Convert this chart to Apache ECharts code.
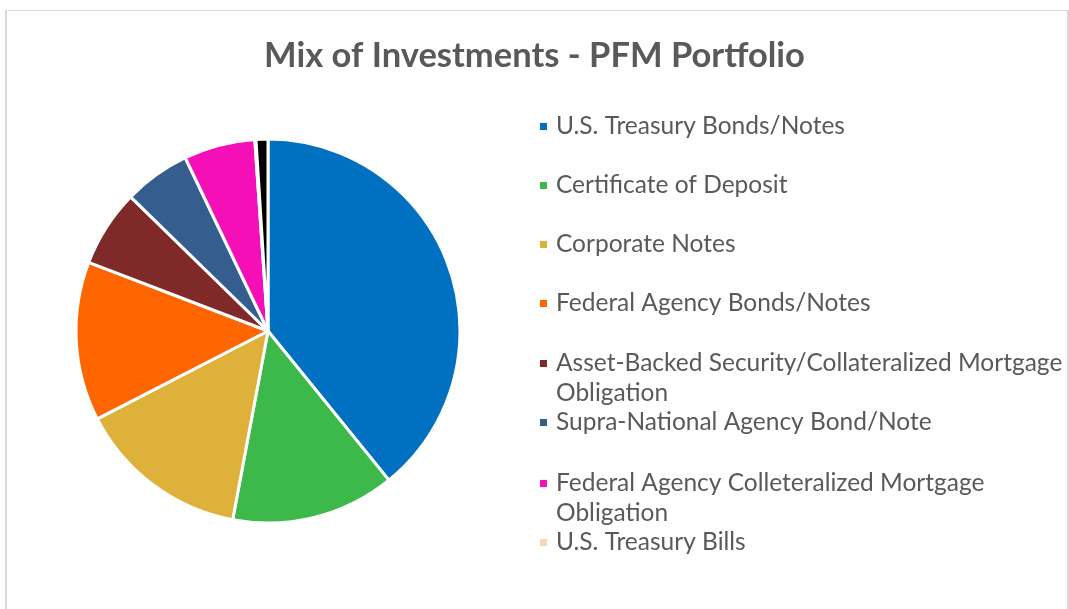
<!DOCTYPE html>
<html>
<head>
<meta charset="utf-8">
<title>Mix of Investments - PFM Portfolio</title>
<script src="https://cdn.jsdelivr.net/npm/echarts@6/dist/echarts.min.js"></script>
<style>
  html, body { margin: 0; padding: 0; background: #fff; }
  .frame {
    position: absolute;
    left: 5px;
    top: 10px;
    width: 1060px;
    height: 610px;
    border-top: 1px solid #d9d9d9;
    border-left: 2px solid #d9d9d9;
    border-right: 2px solid #d9d9d9;
  }
  #chart { position: absolute; left: 0; top: 0; width: 1069px; height: 609px; }
</style>
</head>
<body>
<div class="frame"></div>
<div id="chart"></div>
<script>
// 数据
const categories = [
  'U.S. Treasury Bonds/Notes',
  'Certificate of Deposit',
  'Corporate Notes',
  'Federal Agency Bonds/Notes',
  'Asset-Backed Security/Collateralized Mortgage Obligation',
  'Supra-National Agency Bond/Note',
  'Federal Agency Colleteralized Mortgage Obligation',
  'U.S. Treasury Bills',
  'Other'
]
const shares = [39.2, 13.8, 14.5, 13.4, 6.5, 5.6, 6.0, 0.1, 1.0]
const colors = ['#0070c0', '#3cb94a', '#deb23a', '#ff6600', '#7f2929', '#355e8f', '#f50fb7', '#fbd5b5', '#000000']
// legend shows first 8 only
const legendNames = categories.slice(0, 8)
const legendTops = [125, 184, 243, 302, 362, 421, 482, 541]

const chart = echarts.init(document.getElementById('chart'))

const fontFamily = 'Lato'

// 每个图例单独放一个，便于控制行距
const legends = legendNames.map((name, i) => ({
  data: [name],
  orient: 'vertical',
  left: 533,
  top: legendTops[i] - 16,
  itemWidth: 9,
  itemHeight: 9,
  icon: 'rect',
  selectedMode: false,
  formatter: (n) => n.replace('Mortgage Obligation', 'Mortgage'),
  textStyle: {
    fontFamily: fontFamily,
    fontSize: 24.5,
    color: '#595959',
    padding: [0, 0, 0, 3]
  }
}))

// second lines of wrapped legend labels
const wrapLines = [
  { text: 'Obligation', y: legendTops[4] + 32 },
  { text: 'Obligation', y: legendTops[6] + 32 }
]

const option = {
  animation: false,
  color: colors,
  title: {
    text: 'Mix of Investments - PFM Portfolio',
    left: 'center',
    top: 33,
    textStyle: {
      fontFamily: fontFamily,
      fontSize: 34.5,
      fontWeight: 'bold',
      color: '#595959'
    }
  },
  legend: legends,
  graphic: wrapLines.map(w => ({
    type: 'text',
    left: 556,
    top: w.y - 13,
    style: {
      text: w.text,
      fill: '#595959',
      font: '24.5px ' + fontFamily
    }
  })),
  series: [
    {
      type: 'pie',
      center: [268, 331],
      radius: 192,
      startAngle: 90,
      clockwise: true,
      label: { show: false },
      labelLine: { show: false },
      emphasis: { disabled: true },
      itemStyle: {
        borderColor: '#fff',
        borderWidth: 3
      },
      data: categories.map((name, i) => ({
        name: name,
        value: shares[i]
      }))
    }
  ]
}

chart.setOption(option)
</script>
</body>
</html>
